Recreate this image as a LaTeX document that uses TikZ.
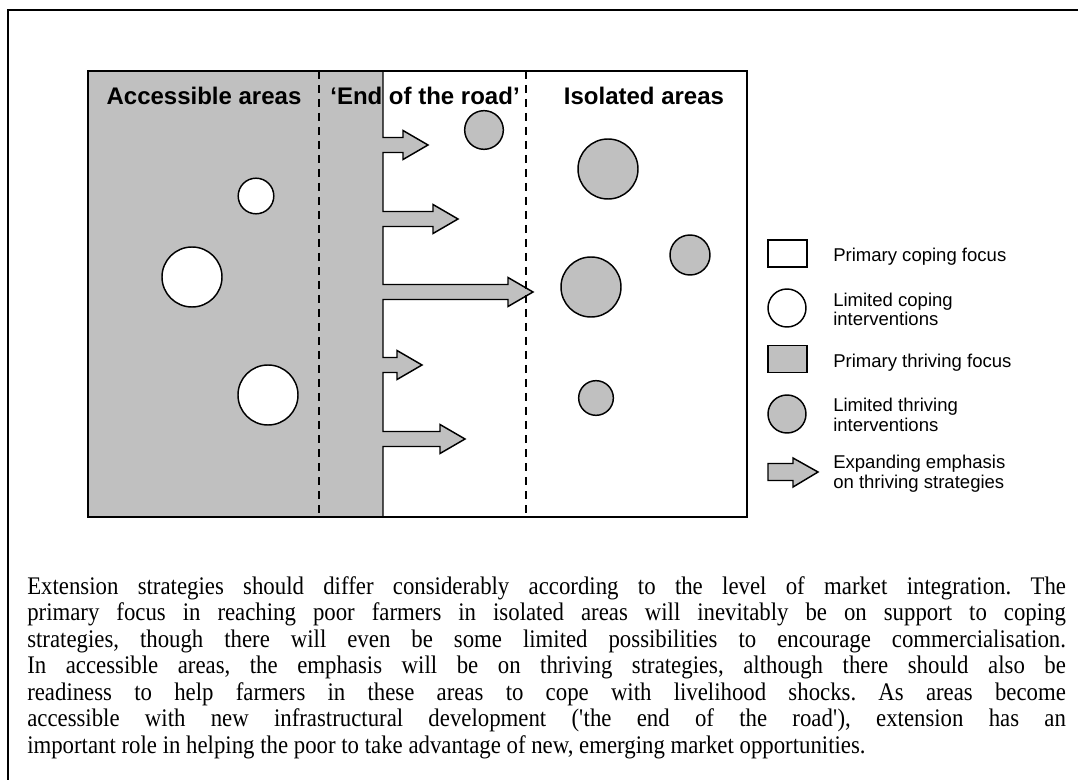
\documentclass[tikz,border=0pt]{standalone}
\usepackage{fontspec}
\setmainfont{Liberation Serif}
\setsansfont{Liberation Sans}
\newfontfamily\bodyfont[FakeStretch=0.9]{Liberation Serif}
\definecolor{silvergray}{RGB}{192,192,192}

\begin{document}
\begin{tikzpicture}[x=0.75pt,y=-0.75pt,
  coping/.style={circle,draw,line width=1.1pt,fill=white,inner sep=0pt},
  thriving/.style={circle,draw,line width=1.1pt,fill=silvergray,inner sep=0pt},
  keybox/.style={draw,line width=1.1pt,inner sep=0pt,minimum width=29.25pt,minimum height=20.25pt},
  zonehead/.style={font=\sffamily\bfseries\fontsize{18}{21}\selectfont,anchor=base,inner sep=0pt},
  keytext/.style={font=\sffamily\fontsize{13.9}{14.6}\selectfont,anchor=west,align=left,inner sep=0pt},
  divider/.style={line width=1.1pt,dash pattern=on 6pt off 4.5pt}]
  \useasboundingbox (0,0) rectangle (1078,780);
  % outer frame, runs off the page at right and bottom
  \draw[line width=1.5pt] (1078,10) -| (8,780);

  % thriving zone with its spreading arrows
  \draw[line width=1.1pt,fill=silvergray] (88,71) -- (383,71)
    foreach \tx/\ty in {428/145,458/219,533/292,422/365,465/439}{
      -- (383,\ty-7.5) -- (\tx-25,\ty-7.5) -- (\tx-25,\ty-14.5) -- (\tx,\ty)
      -- (\tx-25,\ty+14.5) -- (\tx-25,\ty+7.5) -- (383,\ty+7.5)}
    -- (383,517) -- (88,517) -- cycle;

  % zone borders
  \draw[divider] (319,71) -- (319,517);
  \draw[divider] (526,71) -- (526,517);
  \draw[line width=1.2pt] (88,71) rectangle (747,517);

  % zone headings
  \node[zonehead] (hacc) at (204,105) {Accessible areas};
  \node[zonehead] (hend) at (425,105) {‘End of the road’};
  \node[zonehead] (hiso) at (644,105) {Isolated areas};

  % limited coping interventions
  \node[coping,minimum size=26.7pt] (cop1) at (256,196) {};
  \node[coping,minimum size=45pt] (cop2) at (192,277) {};
  \node[coping,minimum size=45pt] (cop3) at (268,395) {};

  % limited thriving interventions
  \node[thriving,minimum size=29pt] (thr1) at (484,130) {};
  \node[thriving,minimum size=45pt] (thr2) at (608,169) {};
  \node[thriving,minimum size=30pt] (thr3) at (690,255) {};
  \node[thriving,minimum size=45pt] (thr4) at (591,287) {};
  \node[thriving,minimum size=26pt] (thr5) at (596,398) {};

  % legend
  \node[keybox,fill=white] (kcope) at (787.5,253.5) {};
  \node[keytext] (tcope) at (833,257) {Primary coping focus};
  \node[coping,minimum size=28.5pt] (kcopec) at (787,308) {};
  \node[keytext] (tcopec) at (833,309.5) {Limited coping\\interventions};
  \node[keybox,fill=silvergray] (kthr) at (787.5,359) {};
  \node[keytext] (tthr) at (833,363) {Primary thriving focus};
  \node[thriving,minimum size=28.5pt] (kthrc) at (787,414) {};
  \node[keytext] (tthrc) at (833,415) {Limited thriving\\interventions};
  \draw[line width=1.1pt,fill=silvergray] (768,463.5) -- (793,463.5) -- (793,458)
    -- (818,472) -- (793,487) -- (793,480.5) -- (768,480.5) -- cycle;
  \node[keytext] (tarr) at (833,473.5) {Expanding emphasis\\on thriving strategies};

  % caption text
  \node[anchor=base west,inner sep=0pt,text width=779pt,align=justify,
        font=\bodyfont\fontsize{19}{19.9}\selectfont\frenchspacing] (caption) at (27,594)
    {Extension strategies should differ considerably according to the level of market integration. The\linebreak
     primary focus in reaching poor farmers in isolated areas will inevitably be on support to coping\linebreak
     strategies, though there will even be some limited possibilities to encourage commercialisation.\linebreak
     In accessible areas, the emphasis will be on thriving strategies, although there should also be\linebreak
     readiness to help farmers in these areas to cope with livelihood shocks. As areas become\linebreak
     accessible with new infrastructural development ({\textquotesingle}the end of the road{\textquotesingle}), extension has an\linebreak
     important role in helping the poor to take advantage of new, emerging market opportunities.};
\end{tikzpicture}
\end{document}
